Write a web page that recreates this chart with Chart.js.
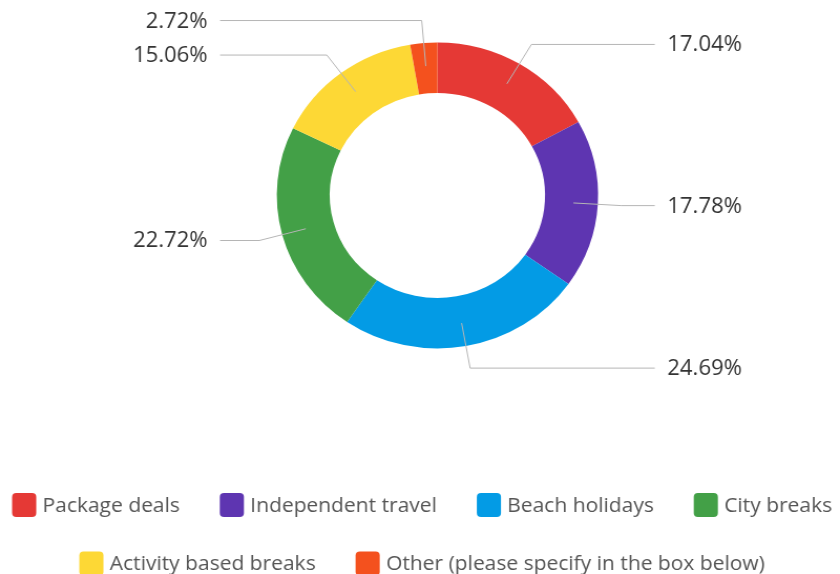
<!DOCTYPE html>
<html>
<head>
<meta charset="utf-8">
<title>Holiday types</title>
<script src="https://cdn.jsdelivr.net/npm/chart.js@4.4.1/dist/chart.umd.min.js"></script>
<style>
  html, body { margin: 0; padding: 0; background: #fff; overflow: hidden; }
  /* the chart is drawn 800 wide and shown a little wider */
  #wrap { width: 800px; height: 574px; transform: scaleX(1.05); transform-origin: 0 0; }
</style>
</head>
<body>
<div id="wrap"><canvas id="holiday-chart"></canvas></div>
<script>
// answers (percent of respondents)
const categories = [
  'Package deals',
  'Independent travel',
  'Beach holidays',
  'City breaks',
  'Activity based breaks',
  'Other (please specify in the box below)'
];
const shares = [17.04, 17.78, 24.69, 22.72, 15.06, 2.72];
const colours = ['#e53935', '#5e35b1', '#039be5', '#43a047', '#fdd835', '#f4511e'];

const LABEL_FONT = '21px "Open Sans"';
const LEGEND_FONT = '20px "Open Sans"';

// percentage labels outside the ring, with bent leader lines
const leaderLabels = {
  id: 'leaderLabels',
  afterDatasetsDraw(chart) {
    const ctx = chart.ctx;
    const meta = chart.getDatasetMeta(0);
    ctx.save();
    ctx.font = LABEL_FONT;
    ctx.textBaseline = 'middle';
    meta.data.forEach((arc, i) => {
      const p = arc.getProps(['x', 'y', 'startAngle', 'endAngle', 'innerRadius', 'outerRadius'], true);
      const mid = (p.startAngle + p.endAngle) / 2;
      const rIn = (p.innerRadius + p.outerRadius) / 2 + 2;
      const rOut = p.outerRadius + 22.5;
      const sx = p.x + Math.cos(mid) * rIn, sy = p.y + Math.sin(mid) * rIn;
      const ex = p.x + Math.cos(mid) * rOut, ey = p.y + Math.sin(mid) * rOut;
      const right = Math.cos(mid) >= 0;
      const lineEnd = p.x + (right ? 207 : -207);
      const textX = p.x + (right ? 219 : -219);

      ctx.strokeStyle = '#b5b5b5';
      ctx.lineWidth = 1;
      ctx.beginPath();
      ctx.moveTo(sx, sy);
      ctx.lineTo(ex, ey);
      ctx.lineTo(lineEnd, ey);
      ctx.stroke();

      ctx.fillStyle = '#333';
      ctx.textAlign = right ? 'left' : 'right';
      ctx.fillText(shares[i].toFixed(2) + '%', textX, ey + 1);
    });
    ctx.restore();
  }
};

// legend rows under the chart
const bottomLegend = {
  id: 'bottomLegend',
  afterDraw(chart) {
    const ctx = chart.ctx;
    const boxW = 23, boxH = 24, textGap = 6, itemGap = 38;
    const rowY = [505, 563.5];
    const centreX = 402;
    const maxW = chart.width;
    ctx.save();
    ctx.font = LEGEND_FONT;
    ctx.textBaseline = 'middle';
    ctx.textAlign = 'left';

    const items = chart.data.labels.map((t, i) => ({
      text: t,
      colour: chart.data.datasets[0].backgroundColor[i],
      w: boxW + textGap + ctx.measureText(t).width
    }));
    const rows = [[]];
    let used = 0;
    items.forEach(it => {
      const row = rows[rows.length - 1];
      const need = row.length ? used + itemGap + it.w : it.w;
      if (row.length && need > maxW) {
        rows.push([it]);
        used = it.w;
      } else {
        row.push(it);
        used = need;
      }
    });

    rows.forEach((row, r) => {
      const total = row.reduce((s, it) => s + it.w, 0) + itemGap * (row.length - 1);
      let x = centreX - total / 2;
      const y = rowY[r];
      row.forEach(it => {
        ctx.fillStyle = it.colour;
        ctx.beginPath();
        ctx.roundRect(x, y - boxH / 2, boxW, boxH, 4);
        ctx.fill();
        ctx.fillStyle = '#555';
        ctx.fillText(it.text, x + boxW + textGap, y + 1);
        x += it.w + itemGap;
      });
    });
    ctx.restore();
  }
};

new Chart(document.getElementById('holiday-chart'), {
  type: 'doughnut',
  data: {
    labels: categories,
    datasets: [{
      data: shares,
      backgroundColor: colours,
      borderWidth: 0
    }]
  },
  options: {
    responsive: true,
    maintainAspectRatio: false,
    animation: false,
    cutout: '67%',
    layout: { padding: { top: 42.4, bottom: 225.6, left: 33.2, right: 0 } },
    plugins: {
      legend: { display: false },
      tooltip: { enabled: false }
    }
  },
  plugins: [leaderLabels, bottomLegend]
});
</script>
</body>
</html>
